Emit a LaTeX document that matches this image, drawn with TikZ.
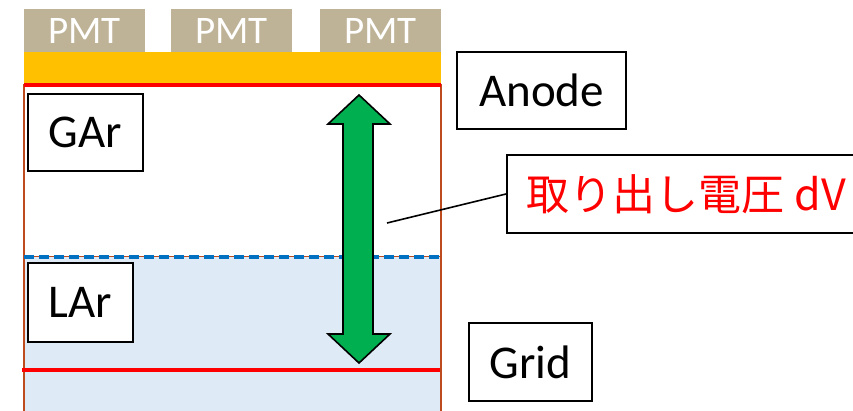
\documentclass[tikz,border=0pt]{standalone}
\usepackage{fontspec}
\setmainfont{Carlito}
\newfontfamily\cjk{Noto Sans CJK JP}
\definecolor{pmtc}{RGB}{190,178,151}
\definecolor{orangec}{HTML}{FFC000}
\definecolor{larc}{HTML}{DEEBF7}
\definecolor{wallc}{RGB}{190,75,30}
\definecolor{dashc}{HTML}{0070C0}
\definecolor{greenc}{HTML}{00B050}
\begin{document}
\begin{tikzpicture}[x=1pt,y=-1pt,
  pmtbox/.style={fill=pmtc,text=white,minimum width=121pt,minimum height=43pt,inner sep=0pt,font=\fontsize{39}{39}\selectfont},
  labbox/.style={draw=black,line width=1.6pt,fill=white,inner sep=0pt,font=\fontsize{47}{47}\selectfont},
  redline/.style={red,line width=3.5pt},
  wall/.style={wallc,line width=2pt}]
\useasboundingbox (0,0) rectangle (853,411);
\clip (0,0) rectangle (853,411);
% PMTs
\node[pmtbox] (p1) at (84.5,30.5) {PMT};
\node[pmtbox] (p2) at (231.5,30.5) {PMT};
\node[pmtbox] (p3) at (380.5,30.5) {PMT};
% anode plate (orange)
\fill[orangec] (24,52) rectangle (441,84);
% liquid argon
\fill[larc] (24,257) rectangle (441,411);
% walls
\draw[wall] (24,84) -- (24,411);
\draw[wall] (441,84) -- (441,411);
% surface
\draw[wallc,line width=1pt] (24,257) -- (441,257);
\draw[dashc,line width=3.5pt,dash pattern=on 10pt off 5pt] (24,257) -- (441,257);
% electrodes
\draw[redline] (24,85) -- (441,85);
\draw[redline] (22,370) -- (440,370);
% labels
\node[labbox,minimum width=115pt,minimum height=77pt] (gar) at (85.5,132.5) {GAr};
\node[labbox,minimum width=105pt,minimum height=79pt] (lar) at (80.5,302.5) {LAr};
\node[labbox,minimum width=169pt,minimum height=77pt] (anode) at (541.5,90.5) {Anode};
\node[labbox,minimum width=123pt,minimum height=78pt] (grid) at (530.5,362) {Grid};
% green double arrow
\draw[fill=greenc,draw=black,line width=1.6pt,line join=miter]
  (359,95) -- (390,124) -- (373,124) -- (373,334) -- (390,334) -- (359,363)
  -- (328,334) -- (343,334) -- (343,124) -- (328,124) -- cycle;
\coordinate (lead) at (387,223);
% dV label
\node[labbox,anchor=west,minimum height=78pt,inner xsep=20pt,text=red,font=\cjk\fontsize{43}{43}\selectfont] (dv) at (506,194) {取り出し電圧 dV};
\draw[black,line width=1.6pt] (lead) -- (dv.west);
\end{tikzpicture}
\end{document}
